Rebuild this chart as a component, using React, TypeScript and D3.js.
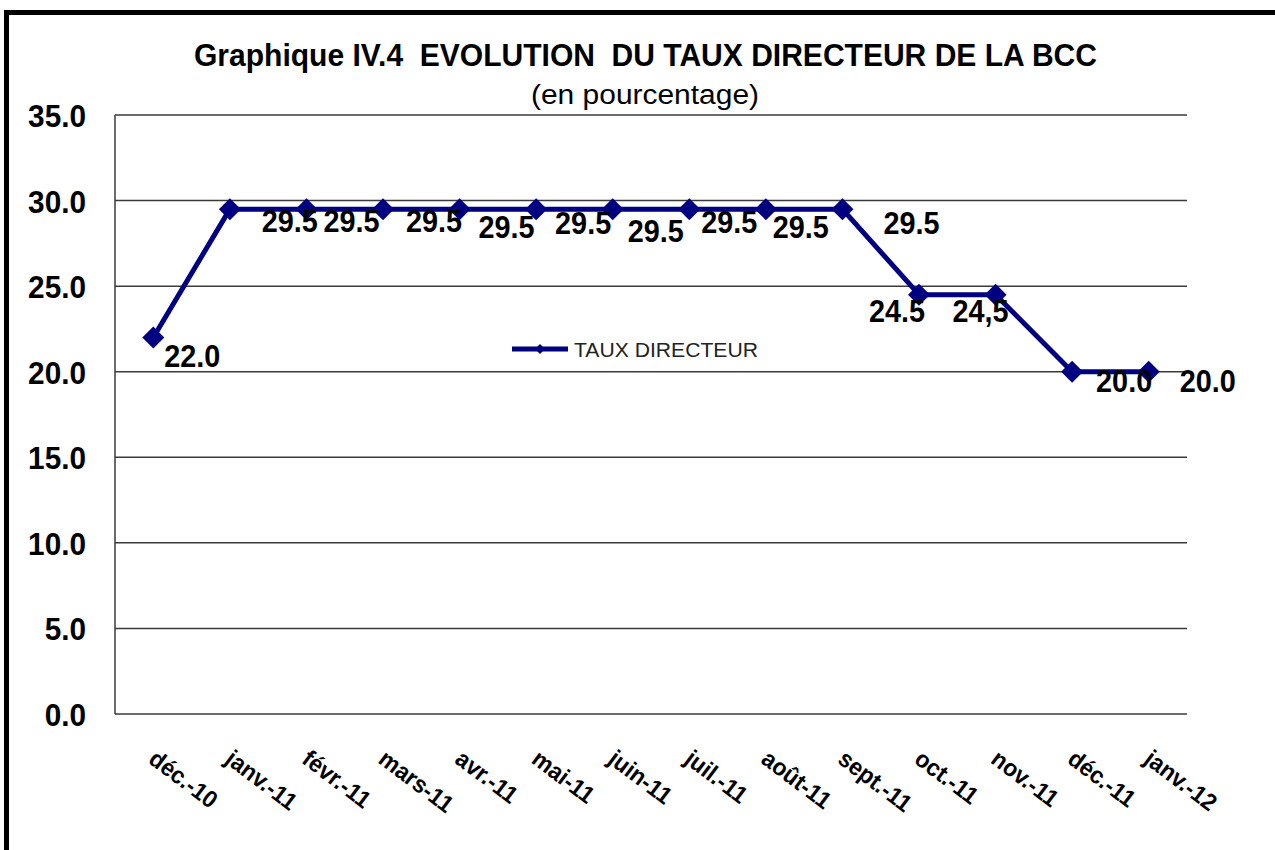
import React from "react";
import * as d3 from "d3";

// ---- data ----
const categories = [
  "déc.-10", "janv.-11", "févr.-11", "mars-11", "avr.-11", "mai-11", "juin-11",
  "juil.-11", "août-11", "sept.-11", "oct.-11", "nov.-11", "déc.-11", "janv.-12",
];
const values = [22.0, 29.5, 29.5, 29.5, 29.5, 29.5, 29.5, 29.5, 29.5, 29.5, 24.5, 24.5, 20.0, 20.0];
const valueLabels = ["22.0", "29.5", "29.5", "29.5", "29.5", "29.5", "29.5", "29.5", "29.5", "29.5", "24.5", "24,5", "20.0", "20.0"];
const yTicks = [0, 5, 10, 15, 20, 25, 30, 35];
const seriesName = "TAUX DIRECTEUR";
const titleText = "Graphique IV.4  EVOLUTION  DU TAUX DIRECTEUR DE LA BCC";
const subtitleText = "(en pourcentage)";

// ---- layout (manual data-label placement, px offsets from each point) ----
const labelDx = [39, 60, 45, 51, 47, 47, 43, 40, 35, 69, -22, -15, 52, 59];
const labelDy = [30, 23, 23, 23, 29, 25, 33, 24, 29, 25, 27, 27, 20, 20];

const W = 1275;
const H = 850;
const plot = { left: 115, right: 1187, top: 115, bottom: 714 };
const NAVY = "#000080";
const FONT = "'Liberation Sans', Arial, sans-serif";
const SX = 0.93;

export default function App() {
  const x = d3.scalePoint<string>().domain(categories).range([plot.left, plot.right]).padding(0.5);
  const y = d3.scaleLinear().domain([0, 35]).range([plot.bottom, plot.top]);
  const line = d3
    .line<number>()
    .x((_, i) => x(categories[i]) as number)
    .y((d) => y(d));
  const diamond = (r: number) => `M0,${-r}L${r},0L0,${r}L${-r},0Z`;

  return (
    <svg
      width={W}
      height={H}
      style={{ position: "absolute", left: 0, top: 0, background: "#fff" }}
      fontFamily={FONT}
    >
      <rect x={0} y={0} width={W} height={H} fill="#fff" />
      {/* outer frame */}
      <rect x={6.5} y={12.5} width={W + 50} height={H + 50} fill="none" stroke="#000" strokeWidth={5} />

      {/* title */}
      <text
        x={194}
        y={66}
        fontSize={31}
        fontWeight="bold"
        textLength={903}
        lengthAdjust="spacingAndGlyphs"
        fill="#000"
        style={{ whiteSpace: "pre" }}
      >
        {titleText}
      </text>
      <text x={531} y={104} fontSize={27} textLength={228} lengthAdjust="spacingAndGlyphs" fill="#000">
        {subtitleText}
      </text>

      {/* gridlines */}
      {yTicks.map((t) => (
        <line key={"g" + t} x1={plot.left} x2={plot.right} y1={y(t)} y2={y(t)} stroke="#3a3a3a" strokeWidth={1.5} />
      ))}
      <line x1={plot.left} x2={plot.left} y1={plot.top} y2={plot.bottom} stroke="#3a3a3a" strokeWidth={1.5} />

      {/* y tick labels */}
      {yTicks.map((t) => (
        <text
          key={"t" + t}
          transform={`translate(86,${y(t) + 12}) scale(${SX},1)`}
          textAnchor="end"
          fontSize={32}
          fontWeight="bold"
          fill="#000"
        >
          {t.toFixed(1)}
        </text>
      ))}

      {/* x labels */}
      {categories.map((c) => (
        <text
          key={"x" + c}
          transform={`translate(${(x(c) as number) - 6},${762}) rotate(37) scale(0.95,1)`}
          fontSize={24}
          fontWeight="bold"
          fill="#000"
        >
          {c}
        </text>
      ))}

      {/* legend */}
      <line x1={512} x2={568} y1={349} y2={349} stroke={NAVY} strokeWidth={5} />
      <path d={diamond(5)} transform="translate(540,349)" fill={NAVY} />
      <text x={574} y={357} fontSize={20} textLength={184} lengthAdjust="spacingAndGlyphs" fill="#222">
        {seriesName}
      </text>

      {/* series */}
      <path d={line(values) || ""} fill="none" stroke={NAVY} strokeWidth={5} strokeLinejoin="round" />
      {values.map((v, i) => (
        <path key={"m" + i} d={diamond(11)} transform={`translate(${x(categories[i])},${y(v)})`} fill={NAVY} />
      ))}

      {/* data labels */}
      {values.map((v, i) => (
        <text
          key={"l" + i}
          transform={`translate(${(x(categories[i]) as number) + labelDx[i]},${y(v) + labelDy[i]}) scale(${SX},1)`}
          textAnchor="middle"
          fontSize={31}
          fontWeight="bold"
          fill="#000"
        >
          {valueLabels[i]}
        </text>
      ))}
    </svg>
  );
}
